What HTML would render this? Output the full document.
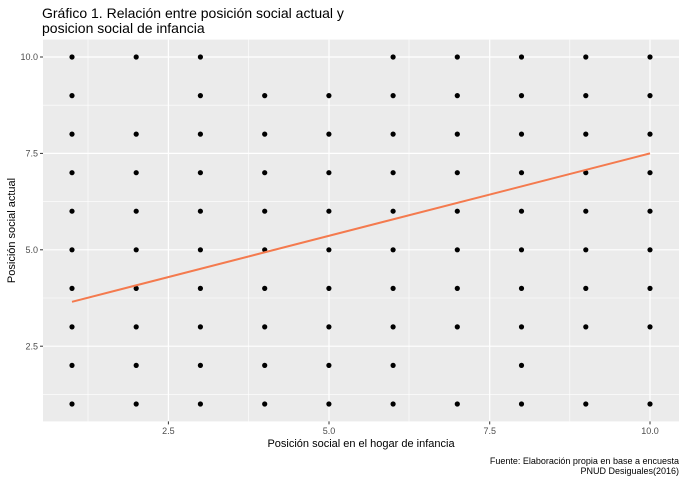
<!DOCTYPE html>
<html><head><meta charset="utf-8"><style>body{margin:0;background:#fff}svg{display:block}</style></head><body>
<svg width="685" height="480" xmlns="http://www.w3.org/2000/svg" font-family="Liberation Sans, sans-serif">
<rect width="685" height="480" fill="#fff"/>
<text x="42" y="18" font-size="14" fill="#000">Gráfico 1. Relación entre posición social actual y</text>
<text x="42" y="33" font-size="14" fill="#000">posicion social de infancia</text>
<rect x="43" y="39.6" width="636" height="381.8" fill="#ebebeb"/>
<g stroke="#fff" stroke-width="0.6">
<line x1="88" x2="88" y1="39.6" y2="421.4"/><line x1="248.6" x2="248.6" y1="39.6" y2="421.4"/>
<line x1="409" x2="409" y1="39.6" y2="421.4"/><line x1="569.8" x2="569.8" y1="39.6" y2="421.4"/>
<line x1="43" x2="679" y1="105.2" y2="105.2"/><line x1="43" x2="679" y1="201.6" y2="201.6"/>
<line x1="43" x2="679" y1="298" y2="298"/><line x1="43" x2="679" y1="394.4" y2="394.4"/>
</g>
<g stroke="#fff" stroke-width="1.2">
<line x1="168.4" x2="168.4" y1="39.6" y2="421.4"/><line x1="329" x2="329" y1="39.6" y2="421.4"/>
<line x1="489.7" x2="489.7" y1="39.6" y2="421.4"/><line x1="650" x2="650" y1="39.6" y2="421.4"/>
<line x1="43" x2="679" y1="57" y2="57"/><line x1="43" x2="679" y1="153.4" y2="153.4"/>
<line x1="43" x2="679" y1="249.8" y2="249.8"/><line x1="43" x2="679" y1="346.2" y2="346.2"/>
</g>
<g fill="#000">
<g transform="translate(0,57)"><circle cx="72" r="2.6"/><circle cx="136.2" r="2.6"/><circle cx="200.4" r="2.6"/><circle cx="393.1" r="2.6"/><circle cx="457.3" r="2.6"/><circle cx="521.5" r="2.6"/><circle cx="585.8" r="2.6"/><circle cx="650" r="2.6"/></g>
<g transform="translate(0,95.6)"><circle cx="72" r="2.6"/><circle cx="200.4" r="2.6"/><circle cx="264.7" r="2.6"/><circle cx="328.9" r="2.6"/><circle cx="393.1" r="2.6"/><circle cx="457.3" r="2.6"/><circle cx="521.5" r="2.6"/><circle cx="585.8" r="2.6"/><circle cx="650" r="2.6"/></g>
<g transform="translate(0,134.1)"><circle cx="72" r="2.6"/><circle cx="136.2" r="2.6"/><circle cx="200.4" r="2.6"/><circle cx="264.7" r="2.6"/><circle cx="328.9" r="2.6"/><circle cx="393.1" r="2.6"/><circle cx="457.3" r="2.6"/><circle cx="521.5" r="2.6"/><circle cx="585.8" r="2.6"/><circle cx="650" r="2.6"/></g>
<g transform="translate(0,172.7)"><circle cx="72" r="2.6"/><circle cx="136.2" r="2.6"/><circle cx="200.4" r="2.6"/><circle cx="264.7" r="2.6"/><circle cx="328.9" r="2.6"/><circle cx="393.1" r="2.6"/><circle cx="457.3" r="2.6"/><circle cx="521.5" r="2.6"/><circle cx="585.8" r="2.6"/><circle cx="650" r="2.6"/></g>
<g transform="translate(0,211.2)"><circle cx="72" r="2.6"/><circle cx="136.2" r="2.6"/><circle cx="200.4" r="2.6"/><circle cx="264.7" r="2.6"/><circle cx="328.9" r="2.6"/><circle cx="393.1" r="2.6"/><circle cx="457.3" r="2.6"/><circle cx="521.5" r="2.6"/><circle cx="585.8" r="2.6"/><circle cx="650" r="2.6"/></g>
<g transform="translate(0,249.8)"><circle cx="72" r="2.6"/><circle cx="136.2" r="2.6"/><circle cx="200.4" r="2.6"/><circle cx="264.7" r="2.6"/><circle cx="328.9" r="2.6"/><circle cx="393.1" r="2.6"/><circle cx="457.3" r="2.6"/><circle cx="521.5" r="2.6"/><circle cx="585.8" r="2.6"/><circle cx="650" r="2.6"/></g>
<g transform="translate(0,288.4)"><circle cx="72" r="2.6"/><circle cx="136.2" r="2.6"/><circle cx="200.4" r="2.6"/><circle cx="264.7" r="2.6"/><circle cx="328.9" r="2.6"/><circle cx="393.1" r="2.6"/><circle cx="457.3" r="2.6"/><circle cx="521.5" r="2.6"/><circle cx="585.8" r="2.6"/><circle cx="650" r="2.6"/></g>
<g transform="translate(0,326.9)"><circle cx="72" r="2.6"/><circle cx="136.2" r="2.6"/><circle cx="200.4" r="2.6"/><circle cx="264.7" r="2.6"/><circle cx="328.9" r="2.6"/><circle cx="393.1" r="2.6"/><circle cx="457.3" r="2.6"/><circle cx="521.5" r="2.6"/><circle cx="585.8" r="2.6"/><circle cx="650" r="2.6"/></g>
<g transform="translate(0,365.4)"><circle cx="72" r="2.6"/><circle cx="136.2" r="2.6"/><circle cx="200.4" r="2.6"/><circle cx="264.7" r="2.6"/><circle cx="328.9" r="2.6"/><circle cx="393.1" r="2.6"/><circle cx="521.5" r="2.6"/></g>
<g transform="translate(0,404)"><circle cx="72" r="2.6"/><circle cx="136.2" r="2.6"/><circle cx="200.4" r="2.6"/><circle cx="264.7" r="2.6"/><circle cx="328.9" r="2.6"/><circle cx="393.1" r="2.6"/><circle cx="457.3" r="2.6"/><circle cx="521.5" r="2.6"/><circle cx="585.8" r="2.6"/><circle cx="650" r="2.6"/></g>
</g>
<line x1="72" y1="301.8" x2="650" y2="153.4" stroke="#f47a4e" stroke-width="2"/>
<g stroke="#333" stroke-width="1">
<line x1="40" x2="43" y1="57" y2="57"/><line x1="40" x2="43" y1="153.4" y2="153.4"/>
<line x1="40" x2="43" y1="249.8" y2="249.8"/><line x1="40" x2="43" y1="346.2" y2="346.2"/>
<line x1="168.4" x2="168.4" y1="421.4" y2="424.4"/><line x1="329" x2="329" y1="421.4" y2="424.4"/>
<line x1="489.7" x2="489.7" y1="421.4" y2="424.4"/><line x1="650" x2="650" y1="421.4" y2="424.4"/>
</g>
<g font-size="9" fill="#4d4d4d" text-anchor="end">
<text x="38" y="60">10.0</text><text x="38" y="156.5">7.5</text><text x="38" y="253">5.0</text><text x="38" y="349.3">2.5</text>
</g>
<g font-size="9" fill="#4d4d4d" text-anchor="middle">
<text x="168.4" y="434">2.5</text><text x="329" y="434">5.0</text><text x="489.7" y="434">7.5</text><text x="650" y="434">10.0</text>
</g>
<text x="361" y="447" font-size="11" text-anchor="middle">Posición social en el hogar de infancia</text>
<text transform="translate(15,230.5) rotate(-90)" font-size="11" text-anchor="middle">Posición social actual</text>
<text x="679" y="464" font-size="9" text-anchor="end">Fuente: Elaboración propia en base a encuesta</text>
<text x="679" y="474" font-size="9" text-anchor="end">PNUD Desiguales(2016)</text>
</svg>
</body></html>
